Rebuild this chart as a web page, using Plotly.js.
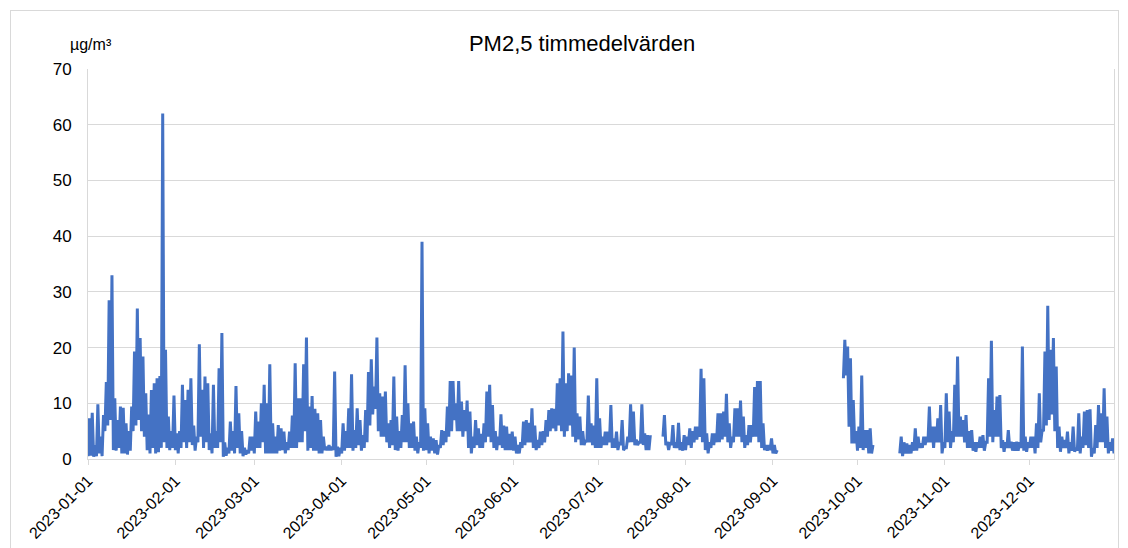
<!DOCTYPE html>
<html>
<head>
<meta charset="utf-8">
<script src="https://cdn.plot.ly/plotly-3.0.1.min.js"></script>
<style>
  html, body { margin: 0; padding: 0; background: #fff; }
  #wrap { position: relative; width: 1128px; height: 548px; overflow: hidden; }
  #chart { position: absolute; left: 0; top: 0; width: 1128px; height: 548px; }
  #frame { position: absolute; left: 10px; top: 10px; width: 1107px; height: 600px; border: 1px solid #d9d9d9; pointer-events: none; }
</style>
</head>
<body>
<div id="wrap"><div id="chart"></div><div id="frame"></div></div>
<script>
// PM2,5 hourly values, two readings per day: [low, high] for each day
const startDate = '2023-01-01';
const stepHours = 12;
const jan = [0.5,7.3, 0.6,8.3, 0.4,2.5, 0.5,9.8, 1.0,4.0, 0.5,7.9, 5.0,13.8, 6.0,28.5, 7.0,33.0, 1.6,10.9,
  1.5,7.0, 2.0,9.4, 1.0,9.2, 1.0,6.4, 0.8,5.0, 1.5,9.4, 5.0,19.3, 6.0,27.0, 7.0,21.7, 5.0,18.4,
  4.0,11.8, 1.6,8.0, 1.0,12.4, 2.0,13.6, 1.0,14.5, 1.2,14.9, 2.0,62.0, 3.0,19.6, 2.0,7.6, 1.6,5.0, 2.0,11.4];
const feb = [1.6,4.6, 1.0,5.0, 2.0,13.3, 3.0,10.6, 2.0,12.4, 3.0,14.5, 2.5,6.0, 1.5,4.0, 3.0,20.6, 4.0,12.4,
  2.0,14.8, 3.0,13.6, 1.6,4.6, 1.0,13.3, 2.0,5.0, 2.0,16.3, 3.0,22.6, 0.4,3.0, 0.6,2.0, 1.0,6.7,
  1.5,5.0, 1.0,13.1, 2.0,8.2, 1.0,5.0, 0.5,2.0, 0.8,1.6, 1.0,4.0, 1.5,4.0];
const mar = [1.0,8.5, 2.0,6.7, 2.0,10.0, 3.0,13.3, 1.0,10.0, 1.0,17.0, 1.0,6.4, 1.0,4.0, 1.0,6.1, 1.5,5.5,
  1.6,4.9, 1.0,3.0, 1.6,4.9, 2.0,7.8, 2.0,17.2, 2.0,10.9, 3.0,10.9, 3.0,17.0, 5.0,21.8, 1.5,9.4,
  2.0,11.3, 1.5,9.0, 1.5,8.2, 1.0,7.0, 1.0,4.0, 1.6,2.2, 1.6,2.5, 1.6,2.2, 1.6,15.7, 0.4,2.2, 0.5,2.0];
const apr = [1.0,6.4, 1.5,5.0, 2.0,9.1, 2.0,15.2, 1.5,5.2, 2.0,9.1, 2.5,7.0, 1.5,4.3, 2.0,8.8, 3.0,15.6,
  6.0,17.9, 8.0,13.0, 9.0,21.8, 5.0,11.8, 4.0,11.2, 4.0,12.1, 3.0,6.4, 2.0,7.0, 2.5,14.8, 1.6,7.6,
  1.5,5.0, 2.0,7.9, 3.0,16.8, 3.0,10.0, 2.0,6.4, 2.0,6.7, 1.5,4.0, 1.0,3.0, 2.0,39.0, 1.5,9.1];
const may = [1.6,6.4, 1.0,4.0, 1.5,3.7, 1.0,3.4, 0.8,2.5, 2.0,5.2, 2.5,5.0, 3.0,9.4, 4.0,14.0, 5.0,14.0,
  7.0,10.0, 5.0,14.0, 5.0,10.3, 4.0,8.8, 5.0,10.5, 2.0,8.5, 1.0,4.0, 2.0,7.0, 2.5,5.5, 2.0,4.5,
  2.0,6.4, 3.0,12.1, 4.0,13.3, 3.0,9.7, 2.0,5.0, 1.6,4.0, 2.5,8.0, 2.0,6.0, 1.6,5.8, 1.6,4.5, 1.6,4.9];
const jun = [1.5,4.0, 1.0,2.5, 1.0,3.0, 2.0,6.7, 2.5,7.0, 3.0,6.5, 3.0,9.1, 2.0,6.0, 1.6,3.4, 2.0,4.9,
  2.5,5.0, 3.0,7.0, 4.0,8.8, 5.0,9.1, 5.5,9.0, 5.0,13.6, 6.0,14.5, 5.0,22.9, 4.0,13.6, 5.0,15.4,
  6.0,15.0, 4.0,20.0, 3.0,8.2, 3.5,7.6, 2.5,5.0, 2.5,3.4, 3.0,11.4, 3.0,6.4, 2.5,6.0, 2.0,14.5];
const jul = [2.0,7.3, 2.0,4.0, 2.5,4.9, 2.5,4.9, 3.0,9.7, 2.0,3.7, 2.0,4.9, 1.6,3.0, 2.5,7.0, 1.6,2.0,
  2.0,4.0, 3.0,9.8, 3.0,8.5, 2.5,3.5, 2.5,3.0, 3.0,9.8, 2.5,4.6, 1.6,4.3, 1.6,4.3,
  null,null, null,null, null,null, null,null,
  4.0,7.9, 2.5,3.1, 1.6,3.0, 2.5,6.1, 2.0,3.0, 2.0,6.5, 1.6,3.0, 1.5,4.3];
const aug = [1.6,4.0, 2.5,5.5, 2.0,5.0, 3.0,5.8, 3.5,5.8, 4.0,16.2, 3.0,14.5, 1.6,4.6, 1.0,3.0, 2.0,4.6,
  2.5,4.6, 3.0,8.2, 3.0,8.2, 3.5,8.5, 4.0,11.7, 3.0,6.4, 2.0,4.0, 3.0,9.1, 4.0,9.1, 4.0,10.5,
  3.0,7.6, 2.0,4.3, 2.5,6.1, 3.0,6.1, 4.0,12.9, 4.0,14.0, 3.0,14.0, 2.0,6.4, 1.6,2.5, 1.5,2.5, 1.6,3.7];
const sep = [1.0,2.5, 1.0,1.6,
  null,null, null,null, null,null, null,null, null,null, null,null, null,null, null,null,
  null,null, null,null, null,null, null,null, null,null, null,null, null,null, null,null,
  null,null, null,null, null,null, null,null, null,null, null,null, null,null,
  14.5,21.4, 15.0,20.2, 5.8,18.1, 2.8,10.6, 2.8,5.0];
const oct = [1.5,5.8, 2.0,15.0, 1.6,5.2, 2.0,5.2, 1.0,5.5, 1.0,2.5,
  null,null, null,null, null,null, null,null, null,null, null,null, null,null, null,null, null,null,
  1.0,4.0, 0.5,3.0, 1.0,2.8, 1.0,2.5, 1.0,3.0, 1.5,5.5, 1.5,4.0, 2.0,2.8, 2.0,4.0, 2.5,4.0,
  3.0,9.4, 3.0,5.8, 2.0,5.8, 3.0,7.3, 3.0,9.7, 1.0,3.0];
const nov = [2.0,11.8, 3.0,8.5, 2.0,5.0, 3.0,13.3, 4.0,18.4, 4.0,7.6, 4.0,7.0, 3.0,7.9, 2.0,5.0, 2.0,5.2,
  1.5,3.0, 1.3,3.0, 2.0,4.0, 2.0,4.3, 1.5,3.0, 3.0,14.5, 4.0,21.2, 3.0,8.8, 4.0,11.2, 4.0,11.5,
  2.0,3.4, 1.3,3.0, 2.0,5.2, 2.0,3.1, 1.5,3.0, 1.5,3.1, 1.5,3.0, 2.0,20.2, 1.5,4.0, 1.3,3.0];
const dec = [2.0,4.0, 2.0,4.0, 1.0,6.4, 2.0,11.8, 3.0,5.2, 5.0,19.3, 6.0,27.5, 7.0,19.6, 8.0,21.7, 5.0,16.6,
  2.0,5.8, 1.3,4.0, 2.0,3.4, 2.0,4.9, 1.0,3.0, 1.5,5.8, 1.3,2.0, 1.5,8.2, 1.0,4.0, 2.0,8.5,
  2.5,8.8, 2.0,8.9, 0.4,2.0, 1.0,6.1, 2.0,9.7, 3.0,8.2, 3.0,12.7, 2.0,7.6, 1.0,3.0, 1.5,3.7, 1.0,3.7];

const tickDates = ['2023-01-01','2023-02-01','2023-03-01','2023-04-01','2023-05-01','2023-06-01',
  '2023-07-01','2023-08-01','2023-09-01','2023-10-01','2023-11-01','2023-12-01'];

const values = [].concat(jan, feb, mar, apr, may, jun, jul, aug, sep, oct, nov, dec);
function pad(n){ return String(n).padStart(2,'0'); }
const t0 = Date.UTC(2023,0,1);
const times = values.map((v,i) => {
  const d = new Date(t0 + i*stepHours*3600*1000);
  return d.getUTCFullYear()+'-'+pad(d.getUTCMonth()+1)+'-'+pad(d.getUTCDate())+' '+pad(d.getUTCHours())+':00';
});

const FONT = 'Liberation Sans, Arial, sans-serif';
const trace = {
  type: 'scatter', mode: 'lines', x: times, y: values,
  line: {color: '#4472C4', width: 3}, connectgaps: false, hoverinfo: 'x+y'
};
const layout = {
  width: 1128, height: 548,
  margin: {l: 88, r: 14, t: 69, b: 89},
  paper_bgcolor: '#ffffff', plot_bgcolor: '#ffffff',
  showlegend: false,
  font: {family: FONT, color: '#000000'},
  title: {text: 'PM2,5 timmedelvärden', font: {family: FONT, size: 22, color: '#000'},
          x: 0.4815, xref: 'paper', xanchor: 'center', y: 1 - 43/548, yref: 'container', yanchor: 'middle'},
  xaxis: {
    type: 'date', range: ['2023-01-01', '2023-12-31'],
    tickvals: tickDates, ticktext: tickDates, tickangle: -45,
    tickfont: {family: FONT, size: 16, color: '#000'},
    ticks: 'outside', ticklen: 5, tickcolor: '#d9d9d9', tickwidth: 1,
    showline: true, linecolor: '#d9d9d9', linewidth: 1,
    showgrid: false, zeroline: false
  },
  yaxis: {
    range: [0, 70], dtick: 10, tick0: 0,
    tickfont: {family: FONT, size: 17, color: '#000'},
    ticks: '', ticklabelstandoff: 12,
    showline: true, mirror: true, linecolor: '#d9d9d9', linewidth: 1,
    showgrid: true, gridcolor: '#d9d9d9', gridwidth: 1, zeroline: false
  },
  annotations: [{
    text: 'µg/m³', xref: 'paper', yref: 'paper',
    x: (91-88)/1026, y: (459-44)/390, xanchor: 'center', yanchor: 'middle',
    showarrow: false, font: {family: FONT, size: 16, color: '#000'}
  }]
};
Plotly.newPlot('chart', [trace], layout, {staticPlot: true, displayModeBar: false});
</script>
</body>
</html>
